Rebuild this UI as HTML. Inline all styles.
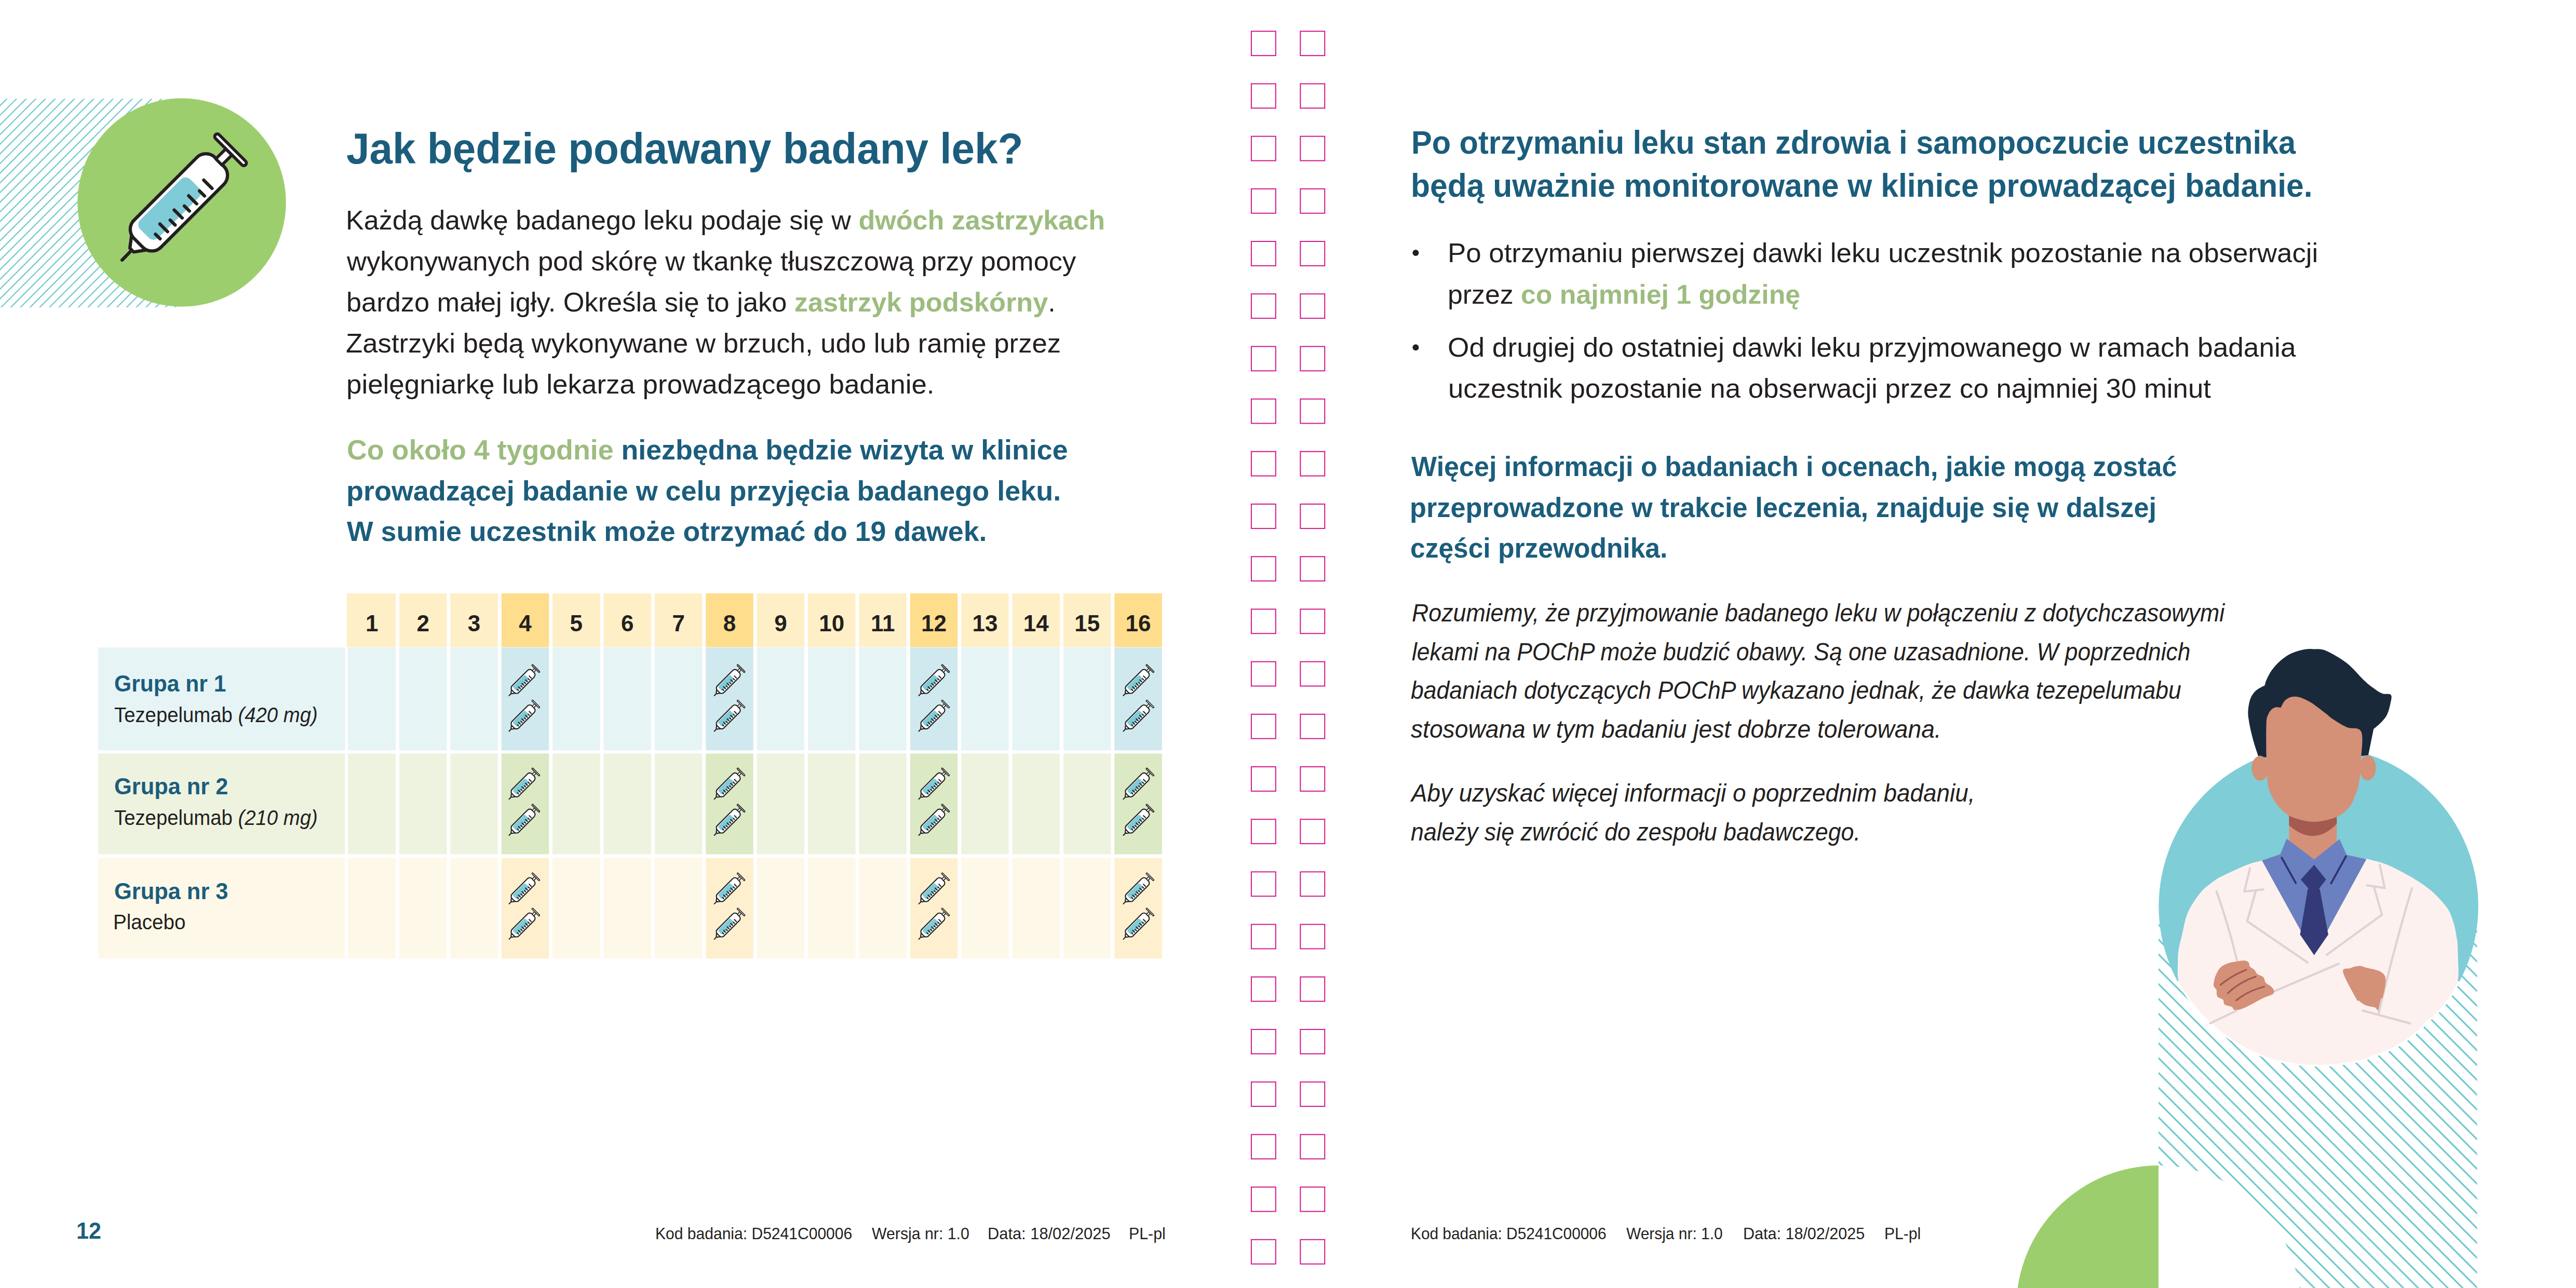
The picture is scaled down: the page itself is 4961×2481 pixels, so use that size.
<!DOCTYPE html>
<html><head><meta charset="utf-8"><style>
html,body{margin:0;padding:0;}
body{width:4961px;height:2481px;position:relative;overflow:hidden;background:#fff;font-family:"Liberation Sans",sans-serif;}
svg.bg{position:absolute;left:0;top:0;}
.t{position:absolute;white-space:pre;line-height:1;transform-origin:0 0;}
.n{position:absolute;top:1178.75px;font-size:44px;line-height:1;font-weight:700;text-align:center;}
</style></head><body>
<svg class="bg" width="4961" height="2481" viewBox="0 0 4961 2481">
<defs>
<pattern id="hl" patternUnits="userSpaceOnUse" width="13.152" height="40" patternTransform="translate(16.0,0) rotate(45)">
<rect x="0" y="0" width="2.1" height="40" fill="#68c6ca"/></pattern>
<pattern id="hr" patternUnits="userSpaceOnUse" width="20.188" height="40" patternTransform="translate(4.0,0) rotate(-45)">
<rect x="0" y="0" width="3.1" height="40" fill="#6cc8cc"/></pattern>

<clipPath id="docclip"><rect x="4157" y="1200" width="700" height="1281"/></clipPath>
</defs>
<rect x="0" y="190.3" width="350" height="401.7" fill="url(#hl)"/>
<circle cx="350" cy="390" r="200.7" fill="#9dce6e"/>
<g transform="translate(220,250) scale(0.20964) translate(70,1195) rotate(-45)"><g stroke="#231f20" stroke-linecap="round" stroke-linejoin="round">
<line x1="0" y1="3" x2="140" y2="1" stroke-width="30.0"/>
<path d="M330,-178 L128,-24 L128,26 L330,172 Z" fill="#fff" stroke-width="30.0"/>
<rect x="218" y="-178" width="1052" height="350" rx="118" fill="#fff" stroke-width="30.0"/>
<rect x="318" y="-140" width="650" height="234" rx="62" fill="#7fcbd7" stroke="none"/>
<g stroke-width="30.0">
<line x1="385" y1="52" x2="385" y2="112"/><line x1="480" y1="14" x2="480" y2="114"/>
<line x1="572" y1="56" x2="572" y2="120"/><line x1="664" y1="16" x2="664" y2="120"/>
<line x1="756" y1="56" x2="756" y2="122"/><line x1="850" y1="18" x2="850" y2="122"/>
<line x1="952" y1="56" x2="952" y2="122"/><line x1="1050" y1="14" x2="1050" y2="122"/>
</g>
<rect x="1266" y="-46" width="130" height="80" fill="#fff" stroke-width="28.0"/>
<rect x="1397" y="-205" width="48" height="392" rx="24" fill="#fff" stroke-width="28.0"/>
</g></g>
<rect x="667.80" y="1143" width="94.3" height="103.6" fill="#feefc7"/>
<rect x="768.98" y="1143" width="91.5" height="103.6" fill="#feefc7"/>
<rect x="867.36" y="1143" width="91.5" height="103.6" fill="#feefc7"/>
<rect x="965.74" y="1143" width="91.5" height="103.6" fill="#fedd8c"/>
<rect x="1064.12" y="1143" width="91.5" height="103.6" fill="#feefc7"/>
<rect x="1162.50" y="1143" width="91.5" height="103.6" fill="#feefc7"/>
<rect x="1260.88" y="1143" width="91.5" height="103.6" fill="#feefc7"/>
<rect x="1359.26" y="1143" width="91.5" height="103.6" fill="#fedd8c"/>
<rect x="1457.64" y="1143" width="91.5" height="103.6" fill="#feefc7"/>
<rect x="1556.02" y="1143" width="91.5" height="103.6" fill="#feefc7"/>
<rect x="1654.40" y="1143" width="91.5" height="103.6" fill="#feefc7"/>
<rect x="1752.78" y="1143" width="91.5" height="103.6" fill="#fedd8c"/>
<rect x="1851.16" y="1143" width="91.5" height="103.6" fill="#feefc7"/>
<rect x="1949.54" y="1143" width="91.5" height="103.6" fill="#feefc7"/>
<rect x="2047.92" y="1143" width="91.5" height="103.6" fill="#feefc7"/>
<rect x="2146.30" y="1143" width="91.5" height="103.6" fill="#fedd8c"/>
<rect x="189.1" y="1247.4" width="475.4" height="198.0" fill="#e6f4f6"/>
<rect x="670.00" y="1247.4" width="92.1" height="198.0" fill="#e6f4f6"/>
<rect x="768.98" y="1247.4" width="91.5" height="198.0" fill="#e6f4f6"/>
<rect x="867.36" y="1247.4" width="91.5" height="198.0" fill="#e6f4f6"/>
<rect x="965.74" y="1247.4" width="91.5" height="198.0" fill="#d0e9ee"/>
<rect x="1064.12" y="1247.4" width="91.5" height="198.0" fill="#e6f4f6"/>
<rect x="1162.50" y="1247.4" width="91.5" height="198.0" fill="#e6f4f6"/>
<rect x="1260.88" y="1247.4" width="91.5" height="198.0" fill="#e6f4f6"/>
<rect x="1359.26" y="1247.4" width="91.5" height="198.0" fill="#d0e9ee"/>
<rect x="1457.64" y="1247.4" width="91.5" height="198.0" fill="#e6f4f6"/>
<rect x="1556.02" y="1247.4" width="91.5" height="198.0" fill="#e6f4f6"/>
<rect x="1654.40" y="1247.4" width="91.5" height="198.0" fill="#e6f4f6"/>
<rect x="1752.78" y="1247.4" width="91.5" height="198.0" fill="#d0e9ee"/>
<rect x="1851.16" y="1247.4" width="91.5" height="198.0" fill="#e6f4f6"/>
<rect x="1949.54" y="1247.4" width="91.5" height="198.0" fill="#e6f4f6"/>
<rect x="2047.92" y="1247.4" width="91.5" height="198.0" fill="#e6f4f6"/>
<rect x="2146.30" y="1247.4" width="91.5" height="198.0" fill="#d0e9ee"/>
<rect x="189.1" y="1451.5" width="475.4" height="194.0" fill="#eef3e0"/>
<rect x="670.00" y="1451.5" width="92.1" height="194.0" fill="#eef3e0"/>
<rect x="768.98" y="1451.5" width="91.5" height="194.0" fill="#eef3e0"/>
<rect x="867.36" y="1451.5" width="91.5" height="194.0" fill="#eef3e0"/>
<rect x="965.74" y="1451.5" width="91.5" height="194.0" fill="#dbe9c4"/>
<rect x="1064.12" y="1451.5" width="91.5" height="194.0" fill="#eef3e0"/>
<rect x="1162.50" y="1451.5" width="91.5" height="194.0" fill="#eef3e0"/>
<rect x="1260.88" y="1451.5" width="91.5" height="194.0" fill="#eef3e0"/>
<rect x="1359.26" y="1451.5" width="91.5" height="194.0" fill="#dbe9c4"/>
<rect x="1457.64" y="1451.5" width="91.5" height="194.0" fill="#eef3e0"/>
<rect x="1556.02" y="1451.5" width="91.5" height="194.0" fill="#eef3e0"/>
<rect x="1654.40" y="1451.5" width="91.5" height="194.0" fill="#eef3e0"/>
<rect x="1752.78" y="1451.5" width="91.5" height="194.0" fill="#dbe9c4"/>
<rect x="1851.16" y="1451.5" width="91.5" height="194.0" fill="#eef3e0"/>
<rect x="1949.54" y="1451.5" width="91.5" height="194.0" fill="#eef3e0"/>
<rect x="2047.92" y="1451.5" width="91.5" height="194.0" fill="#eef3e0"/>
<rect x="2146.30" y="1451.5" width="91.5" height="194.0" fill="#dbe9c4"/>
<rect x="189.1" y="1652.7" width="475.4" height="193.8" fill="#fef8e9"/>
<rect x="670.00" y="1652.7" width="92.1" height="193.8" fill="#fef8e9"/>
<rect x="768.98" y="1652.7" width="91.5" height="193.8" fill="#fef8e9"/>
<rect x="867.36" y="1652.7" width="91.5" height="193.8" fill="#fef8e9"/>
<rect x="965.74" y="1652.7" width="91.5" height="193.8" fill="#fef0cf"/>
<rect x="1064.12" y="1652.7" width="91.5" height="193.8" fill="#fef8e9"/>
<rect x="1162.50" y="1652.7" width="91.5" height="193.8" fill="#fef8e9"/>
<rect x="1260.88" y="1652.7" width="91.5" height="193.8" fill="#fef8e9"/>
<rect x="1359.26" y="1652.7" width="91.5" height="193.8" fill="#fef0cf"/>
<rect x="1457.64" y="1652.7" width="91.5" height="193.8" fill="#fef8e9"/>
<rect x="1556.02" y="1652.7" width="91.5" height="193.8" fill="#fef8e9"/>
<rect x="1654.40" y="1652.7" width="91.5" height="193.8" fill="#fef8e9"/>
<rect x="1752.78" y="1652.7" width="91.5" height="193.8" fill="#fef0cf"/>
<rect x="1851.16" y="1652.7" width="91.5" height="193.8" fill="#fef8e9"/>
<rect x="1949.54" y="1652.7" width="91.5" height="193.8" fill="#fef8e9"/>
<rect x="2047.92" y="1652.7" width="91.5" height="193.8" fill="#fef8e9"/>
<rect x="2146.30" y="1652.7" width="91.5" height="193.8" fill="#fef0cf"/>
<g transform="translate(980.40,1339.9) scale(0.05157) rotate(-45)"><g stroke="#231f20" stroke-linecap="round" stroke-linejoin="round">
<line x1="0" y1="3" x2="140" y2="1" stroke-width="40.5"/>
<path d="M330,-178 L128,-24 L128,26 L330,172 Z" fill="#fff" stroke-width="40.5"/>
<rect x="218" y="-178" width="1052" height="350" rx="118" fill="#fff" stroke-width="40.5"/>
<rect x="318" y="-140" width="650" height="234" rx="62" fill="#7fcbd7" stroke="none"/>
<g stroke-width="40.5">
<line x1="385" y1="52" x2="385" y2="112"/><line x1="480" y1="14" x2="480" y2="114"/>
<line x1="572" y1="56" x2="572" y2="120"/><line x1="664" y1="16" x2="664" y2="120"/>
<line x1="756" y1="56" x2="756" y2="122"/><line x1="850" y1="18" x2="850" y2="122"/>
<line x1="952" y1="56" x2="952" y2="122"/><line x1="1050" y1="14" x2="1050" y2="122"/>
</g>
<rect x="1266" y="-46" width="130" height="80" fill="#fff" stroke-width="30.9"/>
<rect x="1397" y="-205" width="48" height="392" rx="24" fill="#fff" stroke-width="30.9"/>
</g></g>
<g transform="translate(980.40,1408.3) scale(0.05157) rotate(-45)"><g stroke="#231f20" stroke-linecap="round" stroke-linejoin="round">
<line x1="0" y1="3" x2="140" y2="1" stroke-width="40.5"/>
<path d="M330,-178 L128,-24 L128,26 L330,172 Z" fill="#fff" stroke-width="40.5"/>
<rect x="218" y="-178" width="1052" height="350" rx="118" fill="#fff" stroke-width="40.5"/>
<rect x="318" y="-140" width="650" height="234" rx="62" fill="#7fcbd7" stroke="none"/>
<g stroke-width="40.5">
<line x1="385" y1="52" x2="385" y2="112"/><line x1="480" y1="14" x2="480" y2="114"/>
<line x1="572" y1="56" x2="572" y2="120"/><line x1="664" y1="16" x2="664" y2="120"/>
<line x1="756" y1="56" x2="756" y2="122"/><line x1="850" y1="18" x2="850" y2="122"/>
<line x1="952" y1="56" x2="952" y2="122"/><line x1="1050" y1="14" x2="1050" y2="122"/>
</g>
<rect x="1266" y="-46" width="130" height="80" fill="#fff" stroke-width="30.9"/>
<rect x="1397" y="-205" width="48" height="392" rx="24" fill="#fff" stroke-width="30.9"/>
</g></g>
<g transform="translate(1375.60,1339.9) scale(0.05157) rotate(-45)"><g stroke="#231f20" stroke-linecap="round" stroke-linejoin="round">
<line x1="0" y1="3" x2="140" y2="1" stroke-width="40.5"/>
<path d="M330,-178 L128,-24 L128,26 L330,172 Z" fill="#fff" stroke-width="40.5"/>
<rect x="218" y="-178" width="1052" height="350" rx="118" fill="#fff" stroke-width="40.5"/>
<rect x="318" y="-140" width="650" height="234" rx="62" fill="#7fcbd7" stroke="none"/>
<g stroke-width="40.5">
<line x1="385" y1="52" x2="385" y2="112"/><line x1="480" y1="14" x2="480" y2="114"/>
<line x1="572" y1="56" x2="572" y2="120"/><line x1="664" y1="16" x2="664" y2="120"/>
<line x1="756" y1="56" x2="756" y2="122"/><line x1="850" y1="18" x2="850" y2="122"/>
<line x1="952" y1="56" x2="952" y2="122"/><line x1="1050" y1="14" x2="1050" y2="122"/>
</g>
<rect x="1266" y="-46" width="130" height="80" fill="#fff" stroke-width="30.9"/>
<rect x="1397" y="-205" width="48" height="392" rx="24" fill="#fff" stroke-width="30.9"/>
</g></g>
<g transform="translate(1375.60,1408.3) scale(0.05157) rotate(-45)"><g stroke="#231f20" stroke-linecap="round" stroke-linejoin="round">
<line x1="0" y1="3" x2="140" y2="1" stroke-width="40.5"/>
<path d="M330,-178 L128,-24 L128,26 L330,172 Z" fill="#fff" stroke-width="40.5"/>
<rect x="218" y="-178" width="1052" height="350" rx="118" fill="#fff" stroke-width="40.5"/>
<rect x="318" y="-140" width="650" height="234" rx="62" fill="#7fcbd7" stroke="none"/>
<g stroke-width="40.5">
<line x1="385" y1="52" x2="385" y2="112"/><line x1="480" y1="14" x2="480" y2="114"/>
<line x1="572" y1="56" x2="572" y2="120"/><line x1="664" y1="16" x2="664" y2="120"/>
<line x1="756" y1="56" x2="756" y2="122"/><line x1="850" y1="18" x2="850" y2="122"/>
<line x1="952" y1="56" x2="952" y2="122"/><line x1="1050" y1="14" x2="1050" y2="122"/>
</g>
<rect x="1266" y="-46" width="130" height="80" fill="#fff" stroke-width="30.9"/>
<rect x="1397" y="-205" width="48" height="392" rx="24" fill="#fff" stroke-width="30.9"/>
</g></g>
<g transform="translate(1769.40,1339.9) scale(0.05157) rotate(-45)"><g stroke="#231f20" stroke-linecap="round" stroke-linejoin="round">
<line x1="0" y1="3" x2="140" y2="1" stroke-width="40.5"/>
<path d="M330,-178 L128,-24 L128,26 L330,172 Z" fill="#fff" stroke-width="40.5"/>
<rect x="218" y="-178" width="1052" height="350" rx="118" fill="#fff" stroke-width="40.5"/>
<rect x="318" y="-140" width="650" height="234" rx="62" fill="#7fcbd7" stroke="none"/>
<g stroke-width="40.5">
<line x1="385" y1="52" x2="385" y2="112"/><line x1="480" y1="14" x2="480" y2="114"/>
<line x1="572" y1="56" x2="572" y2="120"/><line x1="664" y1="16" x2="664" y2="120"/>
<line x1="756" y1="56" x2="756" y2="122"/><line x1="850" y1="18" x2="850" y2="122"/>
<line x1="952" y1="56" x2="952" y2="122"/><line x1="1050" y1="14" x2="1050" y2="122"/>
</g>
<rect x="1266" y="-46" width="130" height="80" fill="#fff" stroke-width="30.9"/>
<rect x="1397" y="-205" width="48" height="392" rx="24" fill="#fff" stroke-width="30.9"/>
</g></g>
<g transform="translate(1769.40,1408.3) scale(0.05157) rotate(-45)"><g stroke="#231f20" stroke-linecap="round" stroke-linejoin="round">
<line x1="0" y1="3" x2="140" y2="1" stroke-width="40.5"/>
<path d="M330,-178 L128,-24 L128,26 L330,172 Z" fill="#fff" stroke-width="40.5"/>
<rect x="218" y="-178" width="1052" height="350" rx="118" fill="#fff" stroke-width="40.5"/>
<rect x="318" y="-140" width="650" height="234" rx="62" fill="#7fcbd7" stroke="none"/>
<g stroke-width="40.5">
<line x1="385" y1="52" x2="385" y2="112"/><line x1="480" y1="14" x2="480" y2="114"/>
<line x1="572" y1="56" x2="572" y2="120"/><line x1="664" y1="16" x2="664" y2="120"/>
<line x1="756" y1="56" x2="756" y2="122"/><line x1="850" y1="18" x2="850" y2="122"/>
<line x1="952" y1="56" x2="952" y2="122"/><line x1="1050" y1="14" x2="1050" y2="122"/>
</g>
<rect x="1266" y="-46" width="130" height="80" fill="#fff" stroke-width="30.9"/>
<rect x="1397" y="-205" width="48" height="392" rx="24" fill="#fff" stroke-width="30.9"/>
</g></g>
<g transform="translate(2163.30,1339.9) scale(0.05157) rotate(-45)"><g stroke="#231f20" stroke-linecap="round" stroke-linejoin="round">
<line x1="0" y1="3" x2="140" y2="1" stroke-width="40.5"/>
<path d="M330,-178 L128,-24 L128,26 L330,172 Z" fill="#fff" stroke-width="40.5"/>
<rect x="218" y="-178" width="1052" height="350" rx="118" fill="#fff" stroke-width="40.5"/>
<rect x="318" y="-140" width="650" height="234" rx="62" fill="#7fcbd7" stroke="none"/>
<g stroke-width="40.5">
<line x1="385" y1="52" x2="385" y2="112"/><line x1="480" y1="14" x2="480" y2="114"/>
<line x1="572" y1="56" x2="572" y2="120"/><line x1="664" y1="16" x2="664" y2="120"/>
<line x1="756" y1="56" x2="756" y2="122"/><line x1="850" y1="18" x2="850" y2="122"/>
<line x1="952" y1="56" x2="952" y2="122"/><line x1="1050" y1="14" x2="1050" y2="122"/>
</g>
<rect x="1266" y="-46" width="130" height="80" fill="#fff" stroke-width="30.9"/>
<rect x="1397" y="-205" width="48" height="392" rx="24" fill="#fff" stroke-width="30.9"/>
</g></g>
<g transform="translate(2163.30,1408.3) scale(0.05157) rotate(-45)"><g stroke="#231f20" stroke-linecap="round" stroke-linejoin="round">
<line x1="0" y1="3" x2="140" y2="1" stroke-width="40.5"/>
<path d="M330,-178 L128,-24 L128,26 L330,172 Z" fill="#fff" stroke-width="40.5"/>
<rect x="218" y="-178" width="1052" height="350" rx="118" fill="#fff" stroke-width="40.5"/>
<rect x="318" y="-140" width="650" height="234" rx="62" fill="#7fcbd7" stroke="none"/>
<g stroke-width="40.5">
<line x1="385" y1="52" x2="385" y2="112"/><line x1="480" y1="14" x2="480" y2="114"/>
<line x1="572" y1="56" x2="572" y2="120"/><line x1="664" y1="16" x2="664" y2="120"/>
<line x1="756" y1="56" x2="756" y2="122"/><line x1="850" y1="18" x2="850" y2="122"/>
<line x1="952" y1="56" x2="952" y2="122"/><line x1="1050" y1="14" x2="1050" y2="122"/>
</g>
<rect x="1266" y="-46" width="130" height="80" fill="#fff" stroke-width="30.9"/>
<rect x="1397" y="-205" width="48" height="392" rx="24" fill="#fff" stroke-width="30.9"/>
</g></g>
<g transform="translate(980.40,1539.2) scale(0.05157) rotate(-45)"><g stroke="#231f20" stroke-linecap="round" stroke-linejoin="round">
<line x1="0" y1="3" x2="140" y2="1" stroke-width="40.5"/>
<path d="M330,-178 L128,-24 L128,26 L330,172 Z" fill="#fff" stroke-width="40.5"/>
<rect x="218" y="-178" width="1052" height="350" rx="118" fill="#fff" stroke-width="40.5"/>
<rect x="318" y="-140" width="650" height="234" rx="62" fill="#7fcbd7" stroke="none"/>
<g stroke-width="40.5">
<line x1="385" y1="52" x2="385" y2="112"/><line x1="480" y1="14" x2="480" y2="114"/>
<line x1="572" y1="56" x2="572" y2="120"/><line x1="664" y1="16" x2="664" y2="120"/>
<line x1="756" y1="56" x2="756" y2="122"/><line x1="850" y1="18" x2="850" y2="122"/>
<line x1="952" y1="56" x2="952" y2="122"/><line x1="1050" y1="14" x2="1050" y2="122"/>
</g>
<rect x="1266" y="-46" width="130" height="80" fill="#fff" stroke-width="30.9"/>
<rect x="1397" y="-205" width="48" height="392" rx="24" fill="#fff" stroke-width="30.9"/>
</g></g>
<g transform="translate(980.40,1608.9) scale(0.05157) rotate(-45)"><g stroke="#231f20" stroke-linecap="round" stroke-linejoin="round">
<line x1="0" y1="3" x2="140" y2="1" stroke-width="40.5"/>
<path d="M330,-178 L128,-24 L128,26 L330,172 Z" fill="#fff" stroke-width="40.5"/>
<rect x="218" y="-178" width="1052" height="350" rx="118" fill="#fff" stroke-width="40.5"/>
<rect x="318" y="-140" width="650" height="234" rx="62" fill="#7fcbd7" stroke="none"/>
<g stroke-width="40.5">
<line x1="385" y1="52" x2="385" y2="112"/><line x1="480" y1="14" x2="480" y2="114"/>
<line x1="572" y1="56" x2="572" y2="120"/><line x1="664" y1="16" x2="664" y2="120"/>
<line x1="756" y1="56" x2="756" y2="122"/><line x1="850" y1="18" x2="850" y2="122"/>
<line x1="952" y1="56" x2="952" y2="122"/><line x1="1050" y1="14" x2="1050" y2="122"/>
</g>
<rect x="1266" y="-46" width="130" height="80" fill="#fff" stroke-width="30.9"/>
<rect x="1397" y="-205" width="48" height="392" rx="24" fill="#fff" stroke-width="30.9"/>
</g></g>
<g transform="translate(1375.60,1539.2) scale(0.05157) rotate(-45)"><g stroke="#231f20" stroke-linecap="round" stroke-linejoin="round">
<line x1="0" y1="3" x2="140" y2="1" stroke-width="40.5"/>
<path d="M330,-178 L128,-24 L128,26 L330,172 Z" fill="#fff" stroke-width="40.5"/>
<rect x="218" y="-178" width="1052" height="350" rx="118" fill="#fff" stroke-width="40.5"/>
<rect x="318" y="-140" width="650" height="234" rx="62" fill="#7fcbd7" stroke="none"/>
<g stroke-width="40.5">
<line x1="385" y1="52" x2="385" y2="112"/><line x1="480" y1="14" x2="480" y2="114"/>
<line x1="572" y1="56" x2="572" y2="120"/><line x1="664" y1="16" x2="664" y2="120"/>
<line x1="756" y1="56" x2="756" y2="122"/><line x1="850" y1="18" x2="850" y2="122"/>
<line x1="952" y1="56" x2="952" y2="122"/><line x1="1050" y1="14" x2="1050" y2="122"/>
</g>
<rect x="1266" y="-46" width="130" height="80" fill="#fff" stroke-width="30.9"/>
<rect x="1397" y="-205" width="48" height="392" rx="24" fill="#fff" stroke-width="30.9"/>
</g></g>
<g transform="translate(1375.60,1608.9) scale(0.05157) rotate(-45)"><g stroke="#231f20" stroke-linecap="round" stroke-linejoin="round">
<line x1="0" y1="3" x2="140" y2="1" stroke-width="40.5"/>
<path d="M330,-178 L128,-24 L128,26 L330,172 Z" fill="#fff" stroke-width="40.5"/>
<rect x="218" y="-178" width="1052" height="350" rx="118" fill="#fff" stroke-width="40.5"/>
<rect x="318" y="-140" width="650" height="234" rx="62" fill="#7fcbd7" stroke="none"/>
<g stroke-width="40.5">
<line x1="385" y1="52" x2="385" y2="112"/><line x1="480" y1="14" x2="480" y2="114"/>
<line x1="572" y1="56" x2="572" y2="120"/><line x1="664" y1="16" x2="664" y2="120"/>
<line x1="756" y1="56" x2="756" y2="122"/><line x1="850" y1="18" x2="850" y2="122"/>
<line x1="952" y1="56" x2="952" y2="122"/><line x1="1050" y1="14" x2="1050" y2="122"/>
</g>
<rect x="1266" y="-46" width="130" height="80" fill="#fff" stroke-width="30.9"/>
<rect x="1397" y="-205" width="48" height="392" rx="24" fill="#fff" stroke-width="30.9"/>
</g></g>
<g transform="translate(1769.40,1539.2) scale(0.05157) rotate(-45)"><g stroke="#231f20" stroke-linecap="round" stroke-linejoin="round">
<line x1="0" y1="3" x2="140" y2="1" stroke-width="40.5"/>
<path d="M330,-178 L128,-24 L128,26 L330,172 Z" fill="#fff" stroke-width="40.5"/>
<rect x="218" y="-178" width="1052" height="350" rx="118" fill="#fff" stroke-width="40.5"/>
<rect x="318" y="-140" width="650" height="234" rx="62" fill="#7fcbd7" stroke="none"/>
<g stroke-width="40.5">
<line x1="385" y1="52" x2="385" y2="112"/><line x1="480" y1="14" x2="480" y2="114"/>
<line x1="572" y1="56" x2="572" y2="120"/><line x1="664" y1="16" x2="664" y2="120"/>
<line x1="756" y1="56" x2="756" y2="122"/><line x1="850" y1="18" x2="850" y2="122"/>
<line x1="952" y1="56" x2="952" y2="122"/><line x1="1050" y1="14" x2="1050" y2="122"/>
</g>
<rect x="1266" y="-46" width="130" height="80" fill="#fff" stroke-width="30.9"/>
<rect x="1397" y="-205" width="48" height="392" rx="24" fill="#fff" stroke-width="30.9"/>
</g></g>
<g transform="translate(1769.40,1608.9) scale(0.05157) rotate(-45)"><g stroke="#231f20" stroke-linecap="round" stroke-linejoin="round">
<line x1="0" y1="3" x2="140" y2="1" stroke-width="40.5"/>
<path d="M330,-178 L128,-24 L128,26 L330,172 Z" fill="#fff" stroke-width="40.5"/>
<rect x="218" y="-178" width="1052" height="350" rx="118" fill="#fff" stroke-width="40.5"/>
<rect x="318" y="-140" width="650" height="234" rx="62" fill="#7fcbd7" stroke="none"/>
<g stroke-width="40.5">
<line x1="385" y1="52" x2="385" y2="112"/><line x1="480" y1="14" x2="480" y2="114"/>
<line x1="572" y1="56" x2="572" y2="120"/><line x1="664" y1="16" x2="664" y2="120"/>
<line x1="756" y1="56" x2="756" y2="122"/><line x1="850" y1="18" x2="850" y2="122"/>
<line x1="952" y1="56" x2="952" y2="122"/><line x1="1050" y1="14" x2="1050" y2="122"/>
</g>
<rect x="1266" y="-46" width="130" height="80" fill="#fff" stroke-width="30.9"/>
<rect x="1397" y="-205" width="48" height="392" rx="24" fill="#fff" stroke-width="30.9"/>
</g></g>
<g transform="translate(2163.30,1539.2) scale(0.05157) rotate(-45)"><g stroke="#231f20" stroke-linecap="round" stroke-linejoin="round">
<line x1="0" y1="3" x2="140" y2="1" stroke-width="40.5"/>
<path d="M330,-178 L128,-24 L128,26 L330,172 Z" fill="#fff" stroke-width="40.5"/>
<rect x="218" y="-178" width="1052" height="350" rx="118" fill="#fff" stroke-width="40.5"/>
<rect x="318" y="-140" width="650" height="234" rx="62" fill="#7fcbd7" stroke="none"/>
<g stroke-width="40.5">
<line x1="385" y1="52" x2="385" y2="112"/><line x1="480" y1="14" x2="480" y2="114"/>
<line x1="572" y1="56" x2="572" y2="120"/><line x1="664" y1="16" x2="664" y2="120"/>
<line x1="756" y1="56" x2="756" y2="122"/><line x1="850" y1="18" x2="850" y2="122"/>
<line x1="952" y1="56" x2="952" y2="122"/><line x1="1050" y1="14" x2="1050" y2="122"/>
</g>
<rect x="1266" y="-46" width="130" height="80" fill="#fff" stroke-width="30.9"/>
<rect x="1397" y="-205" width="48" height="392" rx="24" fill="#fff" stroke-width="30.9"/>
</g></g>
<g transform="translate(2163.30,1608.9) scale(0.05157) rotate(-45)"><g stroke="#231f20" stroke-linecap="round" stroke-linejoin="round">
<line x1="0" y1="3" x2="140" y2="1" stroke-width="40.5"/>
<path d="M330,-178 L128,-24 L128,26 L330,172 Z" fill="#fff" stroke-width="40.5"/>
<rect x="218" y="-178" width="1052" height="350" rx="118" fill="#fff" stroke-width="40.5"/>
<rect x="318" y="-140" width="650" height="234" rx="62" fill="#7fcbd7" stroke="none"/>
<g stroke-width="40.5">
<line x1="385" y1="52" x2="385" y2="112"/><line x1="480" y1="14" x2="480" y2="114"/>
<line x1="572" y1="56" x2="572" y2="120"/><line x1="664" y1="16" x2="664" y2="120"/>
<line x1="756" y1="56" x2="756" y2="122"/><line x1="850" y1="18" x2="850" y2="122"/>
<line x1="952" y1="56" x2="952" y2="122"/><line x1="1050" y1="14" x2="1050" y2="122"/>
</g>
<rect x="1266" y="-46" width="130" height="80" fill="#fff" stroke-width="30.9"/>
<rect x="1397" y="-205" width="48" height="392" rx="24" fill="#fff" stroke-width="30.9"/>
</g></g>
<g transform="translate(980.40,1741) scale(0.05157) rotate(-45)"><g stroke="#231f20" stroke-linecap="round" stroke-linejoin="round">
<line x1="0" y1="3" x2="140" y2="1" stroke-width="40.5"/>
<path d="M330,-178 L128,-24 L128,26 L330,172 Z" fill="#fff" stroke-width="40.5"/>
<rect x="218" y="-178" width="1052" height="350" rx="118" fill="#fff" stroke-width="40.5"/>
<rect x="318" y="-140" width="650" height="234" rx="62" fill="#7fcbd7" stroke="none"/>
<g stroke-width="40.5">
<line x1="385" y1="52" x2="385" y2="112"/><line x1="480" y1="14" x2="480" y2="114"/>
<line x1="572" y1="56" x2="572" y2="120"/><line x1="664" y1="16" x2="664" y2="120"/>
<line x1="756" y1="56" x2="756" y2="122"/><line x1="850" y1="18" x2="850" y2="122"/>
<line x1="952" y1="56" x2="952" y2="122"/><line x1="1050" y1="14" x2="1050" y2="122"/>
</g>
<rect x="1266" y="-46" width="130" height="80" fill="#fff" stroke-width="30.9"/>
<rect x="1397" y="-205" width="48" height="392" rx="24" fill="#fff" stroke-width="30.9"/>
</g></g>
<g transform="translate(980.40,1809) scale(0.05157) rotate(-45)"><g stroke="#231f20" stroke-linecap="round" stroke-linejoin="round">
<line x1="0" y1="3" x2="140" y2="1" stroke-width="40.5"/>
<path d="M330,-178 L128,-24 L128,26 L330,172 Z" fill="#fff" stroke-width="40.5"/>
<rect x="218" y="-178" width="1052" height="350" rx="118" fill="#fff" stroke-width="40.5"/>
<rect x="318" y="-140" width="650" height="234" rx="62" fill="#7fcbd7" stroke="none"/>
<g stroke-width="40.5">
<line x1="385" y1="52" x2="385" y2="112"/><line x1="480" y1="14" x2="480" y2="114"/>
<line x1="572" y1="56" x2="572" y2="120"/><line x1="664" y1="16" x2="664" y2="120"/>
<line x1="756" y1="56" x2="756" y2="122"/><line x1="850" y1="18" x2="850" y2="122"/>
<line x1="952" y1="56" x2="952" y2="122"/><line x1="1050" y1="14" x2="1050" y2="122"/>
</g>
<rect x="1266" y="-46" width="130" height="80" fill="#fff" stroke-width="30.9"/>
<rect x="1397" y="-205" width="48" height="392" rx="24" fill="#fff" stroke-width="30.9"/>
</g></g>
<g transform="translate(1375.60,1741) scale(0.05157) rotate(-45)"><g stroke="#231f20" stroke-linecap="round" stroke-linejoin="round">
<line x1="0" y1="3" x2="140" y2="1" stroke-width="40.5"/>
<path d="M330,-178 L128,-24 L128,26 L330,172 Z" fill="#fff" stroke-width="40.5"/>
<rect x="218" y="-178" width="1052" height="350" rx="118" fill="#fff" stroke-width="40.5"/>
<rect x="318" y="-140" width="650" height="234" rx="62" fill="#7fcbd7" stroke="none"/>
<g stroke-width="40.5">
<line x1="385" y1="52" x2="385" y2="112"/><line x1="480" y1="14" x2="480" y2="114"/>
<line x1="572" y1="56" x2="572" y2="120"/><line x1="664" y1="16" x2="664" y2="120"/>
<line x1="756" y1="56" x2="756" y2="122"/><line x1="850" y1="18" x2="850" y2="122"/>
<line x1="952" y1="56" x2="952" y2="122"/><line x1="1050" y1="14" x2="1050" y2="122"/>
</g>
<rect x="1266" y="-46" width="130" height="80" fill="#fff" stroke-width="30.9"/>
<rect x="1397" y="-205" width="48" height="392" rx="24" fill="#fff" stroke-width="30.9"/>
</g></g>
<g transform="translate(1375.60,1809) scale(0.05157) rotate(-45)"><g stroke="#231f20" stroke-linecap="round" stroke-linejoin="round">
<line x1="0" y1="3" x2="140" y2="1" stroke-width="40.5"/>
<path d="M330,-178 L128,-24 L128,26 L330,172 Z" fill="#fff" stroke-width="40.5"/>
<rect x="218" y="-178" width="1052" height="350" rx="118" fill="#fff" stroke-width="40.5"/>
<rect x="318" y="-140" width="650" height="234" rx="62" fill="#7fcbd7" stroke="none"/>
<g stroke-width="40.5">
<line x1="385" y1="52" x2="385" y2="112"/><line x1="480" y1="14" x2="480" y2="114"/>
<line x1="572" y1="56" x2="572" y2="120"/><line x1="664" y1="16" x2="664" y2="120"/>
<line x1="756" y1="56" x2="756" y2="122"/><line x1="850" y1="18" x2="850" y2="122"/>
<line x1="952" y1="56" x2="952" y2="122"/><line x1="1050" y1="14" x2="1050" y2="122"/>
</g>
<rect x="1266" y="-46" width="130" height="80" fill="#fff" stroke-width="30.9"/>
<rect x="1397" y="-205" width="48" height="392" rx="24" fill="#fff" stroke-width="30.9"/>
</g></g>
<g transform="translate(1769.40,1741) scale(0.05157) rotate(-45)"><g stroke="#231f20" stroke-linecap="round" stroke-linejoin="round">
<line x1="0" y1="3" x2="140" y2="1" stroke-width="40.5"/>
<path d="M330,-178 L128,-24 L128,26 L330,172 Z" fill="#fff" stroke-width="40.5"/>
<rect x="218" y="-178" width="1052" height="350" rx="118" fill="#fff" stroke-width="40.5"/>
<rect x="318" y="-140" width="650" height="234" rx="62" fill="#7fcbd7" stroke="none"/>
<g stroke-width="40.5">
<line x1="385" y1="52" x2="385" y2="112"/><line x1="480" y1="14" x2="480" y2="114"/>
<line x1="572" y1="56" x2="572" y2="120"/><line x1="664" y1="16" x2="664" y2="120"/>
<line x1="756" y1="56" x2="756" y2="122"/><line x1="850" y1="18" x2="850" y2="122"/>
<line x1="952" y1="56" x2="952" y2="122"/><line x1="1050" y1="14" x2="1050" y2="122"/>
</g>
<rect x="1266" y="-46" width="130" height="80" fill="#fff" stroke-width="30.9"/>
<rect x="1397" y="-205" width="48" height="392" rx="24" fill="#fff" stroke-width="30.9"/>
</g></g>
<g transform="translate(1769.40,1809) scale(0.05157) rotate(-45)"><g stroke="#231f20" stroke-linecap="round" stroke-linejoin="round">
<line x1="0" y1="3" x2="140" y2="1" stroke-width="40.5"/>
<path d="M330,-178 L128,-24 L128,26 L330,172 Z" fill="#fff" stroke-width="40.5"/>
<rect x="218" y="-178" width="1052" height="350" rx="118" fill="#fff" stroke-width="40.5"/>
<rect x="318" y="-140" width="650" height="234" rx="62" fill="#7fcbd7" stroke="none"/>
<g stroke-width="40.5">
<line x1="385" y1="52" x2="385" y2="112"/><line x1="480" y1="14" x2="480" y2="114"/>
<line x1="572" y1="56" x2="572" y2="120"/><line x1="664" y1="16" x2="664" y2="120"/>
<line x1="756" y1="56" x2="756" y2="122"/><line x1="850" y1="18" x2="850" y2="122"/>
<line x1="952" y1="56" x2="952" y2="122"/><line x1="1050" y1="14" x2="1050" y2="122"/>
</g>
<rect x="1266" y="-46" width="130" height="80" fill="#fff" stroke-width="30.9"/>
<rect x="1397" y="-205" width="48" height="392" rx="24" fill="#fff" stroke-width="30.9"/>
</g></g>
<g transform="translate(2163.30,1741) scale(0.05157) rotate(-45)"><g stroke="#231f20" stroke-linecap="round" stroke-linejoin="round">
<line x1="0" y1="3" x2="140" y2="1" stroke-width="40.5"/>
<path d="M330,-178 L128,-24 L128,26 L330,172 Z" fill="#fff" stroke-width="40.5"/>
<rect x="218" y="-178" width="1052" height="350" rx="118" fill="#fff" stroke-width="40.5"/>
<rect x="318" y="-140" width="650" height="234" rx="62" fill="#7fcbd7" stroke="none"/>
<g stroke-width="40.5">
<line x1="385" y1="52" x2="385" y2="112"/><line x1="480" y1="14" x2="480" y2="114"/>
<line x1="572" y1="56" x2="572" y2="120"/><line x1="664" y1="16" x2="664" y2="120"/>
<line x1="756" y1="56" x2="756" y2="122"/><line x1="850" y1="18" x2="850" y2="122"/>
<line x1="952" y1="56" x2="952" y2="122"/><line x1="1050" y1="14" x2="1050" y2="122"/>
</g>
<rect x="1266" y="-46" width="130" height="80" fill="#fff" stroke-width="30.9"/>
<rect x="1397" y="-205" width="48" height="392" rx="24" fill="#fff" stroke-width="30.9"/>
</g></g>
<g transform="translate(2163.30,1809) scale(0.05157) rotate(-45)"><g stroke="#231f20" stroke-linecap="round" stroke-linejoin="round">
<line x1="0" y1="3" x2="140" y2="1" stroke-width="40.5"/>
<path d="M330,-178 L128,-24 L128,26 L330,172 Z" fill="#fff" stroke-width="40.5"/>
<rect x="218" y="-178" width="1052" height="350" rx="118" fill="#fff" stroke-width="40.5"/>
<rect x="318" y="-140" width="650" height="234" rx="62" fill="#7fcbd7" stroke="none"/>
<g stroke-width="40.5">
<line x1="385" y1="52" x2="385" y2="112"/><line x1="480" y1="14" x2="480" y2="114"/>
<line x1="572" y1="56" x2="572" y2="120"/><line x1="664" y1="16" x2="664" y2="120"/>
<line x1="756" y1="56" x2="756" y2="122"/><line x1="850" y1="18" x2="850" y2="122"/>
<line x1="952" y1="56" x2="952" y2="122"/><line x1="1050" y1="14" x2="1050" y2="122"/>
</g>
<rect x="1266" y="-46" width="130" height="80" fill="#fff" stroke-width="30.9"/>
<rect x="1397" y="-205" width="48" height="392" rx="24" fill="#fff" stroke-width="30.9"/>
</g></g>
<rect x="2409.9" y="60.2" width="46.9" height="46.9" fill="none" stroke="#d4178a" stroke-width="2.0"/>
<rect x="2504.3" y="60.2" width="46.9" height="46.9" fill="none" stroke="#d4178a" stroke-width="2.0"/>
<rect x="2409.9" y="161.4" width="46.9" height="46.9" fill="none" stroke="#d4178a" stroke-width="2.0"/>
<rect x="2504.3" y="161.4" width="46.9" height="46.9" fill="none" stroke="#d4178a" stroke-width="2.0"/>
<rect x="2409.9" y="262.6" width="46.9" height="46.9" fill="none" stroke="#d4178a" stroke-width="2.0"/>
<rect x="2504.3" y="262.6" width="46.9" height="46.9" fill="none" stroke="#d4178a" stroke-width="2.0"/>
<rect x="2409.9" y="363.8" width="46.9" height="46.9" fill="none" stroke="#d4178a" stroke-width="2.0"/>
<rect x="2504.3" y="363.8" width="46.9" height="46.9" fill="none" stroke="#d4178a" stroke-width="2.0"/>
<rect x="2409.9" y="465.0" width="46.9" height="46.9" fill="none" stroke="#d4178a" stroke-width="2.0"/>
<rect x="2504.3" y="465.0" width="46.9" height="46.9" fill="none" stroke="#d4178a" stroke-width="2.0"/>
<rect x="2409.9" y="566.2" width="46.9" height="46.9" fill="none" stroke="#d4178a" stroke-width="2.0"/>
<rect x="2504.3" y="566.2" width="46.9" height="46.9" fill="none" stroke="#d4178a" stroke-width="2.0"/>
<rect x="2409.9" y="667.4" width="46.9" height="46.9" fill="none" stroke="#d4178a" stroke-width="2.0"/>
<rect x="2504.3" y="667.4" width="46.9" height="46.9" fill="none" stroke="#d4178a" stroke-width="2.0"/>
<rect x="2409.9" y="768.6" width="46.9" height="46.9" fill="none" stroke="#d4178a" stroke-width="2.0"/>
<rect x="2504.3" y="768.6" width="46.9" height="46.9" fill="none" stroke="#d4178a" stroke-width="2.0"/>
<rect x="2409.9" y="869.8" width="46.9" height="46.9" fill="none" stroke="#d4178a" stroke-width="2.0"/>
<rect x="2504.3" y="869.8" width="46.9" height="46.9" fill="none" stroke="#d4178a" stroke-width="2.0"/>
<rect x="2409.9" y="971.0" width="46.9" height="46.9" fill="none" stroke="#d4178a" stroke-width="2.0"/>
<rect x="2504.3" y="971.0" width="46.9" height="46.9" fill="none" stroke="#d4178a" stroke-width="2.0"/>
<rect x="2409.9" y="1072.2" width="46.9" height="46.9" fill="none" stroke="#d4178a" stroke-width="2.0"/>
<rect x="2504.3" y="1072.2" width="46.9" height="46.9" fill="none" stroke="#d4178a" stroke-width="2.0"/>
<rect x="2409.9" y="1173.4" width="46.9" height="46.9" fill="none" stroke="#d4178a" stroke-width="2.0"/>
<rect x="2504.3" y="1173.4" width="46.9" height="46.9" fill="none" stroke="#d4178a" stroke-width="2.0"/>
<rect x="2409.9" y="1274.6" width="46.9" height="46.9" fill="none" stroke="#d4178a" stroke-width="2.0"/>
<rect x="2504.3" y="1274.6" width="46.9" height="46.9" fill="none" stroke="#d4178a" stroke-width="2.0"/>
<rect x="2409.9" y="1375.8" width="46.9" height="46.9" fill="none" stroke="#d4178a" stroke-width="2.0"/>
<rect x="2504.3" y="1375.8" width="46.9" height="46.9" fill="none" stroke="#d4178a" stroke-width="2.0"/>
<rect x="2409.9" y="1477.0" width="46.9" height="46.9" fill="none" stroke="#d4178a" stroke-width="2.0"/>
<rect x="2504.3" y="1477.0" width="46.9" height="46.9" fill="none" stroke="#d4178a" stroke-width="2.0"/>
<rect x="2409.9" y="1578.2" width="46.9" height="46.9" fill="none" stroke="#d4178a" stroke-width="2.0"/>
<rect x="2504.3" y="1578.2" width="46.9" height="46.9" fill="none" stroke="#d4178a" stroke-width="2.0"/>
<rect x="2409.9" y="1679.4" width="46.9" height="46.9" fill="none" stroke="#d4178a" stroke-width="2.0"/>
<rect x="2504.3" y="1679.4" width="46.9" height="46.9" fill="none" stroke="#d4178a" stroke-width="2.0"/>
<rect x="2409.9" y="1780.6" width="46.9" height="46.9" fill="none" stroke="#d4178a" stroke-width="2.0"/>
<rect x="2504.3" y="1780.6" width="46.9" height="46.9" fill="none" stroke="#d4178a" stroke-width="2.0"/>
<rect x="2409.9" y="1881.8" width="46.9" height="46.9" fill="none" stroke="#d4178a" stroke-width="2.0"/>
<rect x="2504.3" y="1881.8" width="46.9" height="46.9" fill="none" stroke="#d4178a" stroke-width="2.0"/>
<rect x="2409.9" y="1983.0" width="46.9" height="46.9" fill="none" stroke="#d4178a" stroke-width="2.0"/>
<rect x="2504.3" y="1983.0" width="46.9" height="46.9" fill="none" stroke="#d4178a" stroke-width="2.0"/>
<rect x="2409.9" y="2084.2" width="46.9" height="46.9" fill="none" stroke="#d4178a" stroke-width="2.0"/>
<rect x="2504.3" y="2084.2" width="46.9" height="46.9" fill="none" stroke="#d4178a" stroke-width="2.0"/>
<rect x="2409.9" y="2185.4" width="46.9" height="46.9" fill="none" stroke="#d4178a" stroke-width="2.0"/>
<rect x="2504.3" y="2185.4" width="46.9" height="46.9" fill="none" stroke="#d4178a" stroke-width="2.0"/>
<rect x="2409.9" y="2286.6" width="46.9" height="46.9" fill="none" stroke="#d4178a" stroke-width="2.0"/>
<rect x="2504.3" y="2286.6" width="46.9" height="46.9" fill="none" stroke="#d4178a" stroke-width="2.0"/>
<rect x="2409.9" y="2387.8" width="46.9" height="46.9" fill="none" stroke="#d4178a" stroke-width="2.0"/>
<rect x="2504.3" y="2387.8" width="46.9" height="46.9" fill="none" stroke="#d4178a" stroke-width="2.0"/>
<circle cx="2726.4" cy="487" r="6" fill="#231f20"/><circle cx="2726.4" cy="669.2" r="6" fill="#231f20"/>
<rect x="4157" y="1780" width="613.5" height="701" fill="url(#hr)"/>
<path d="M4157,2245 A274,274 0 0 0 3883,2519 L4157,2519 Z" fill="#9dce6e"/>
<path d="M4157,2245 A274,274 0 0 1 4431,2519 L4157,2519 Z" fill="#fff"/>
<circle cx="4465.1" cy="1745.8" r="307.7" fill="#7fcdd7"/>
<clipPath id="haloclip"><rect x="4100" y="1890" width="800" height="300"/></clipPath>
<path d="M4356.2,1657.6 C4351.8,1658.8 4338.7,1661.9 4330.0,1665.0 C4321.3,1668.1 4312.0,1672.5 4304.2,1676.0 C4296.4,1679.5 4289.2,1682.9 4283.0,1686.0 C4276.8,1689.1 4273.8,1690.0 4267.0,1694.7 C4260.2,1699.5 4249.4,1707.0 4242.1,1714.5 C4234.9,1722.0 4228.7,1731.1 4223.5,1739.4 C4218.3,1747.7 4214.5,1754.1 4211.0,1764.2 C4207.5,1774.3 4204.9,1789.4 4202.4,1800.0 C4199.9,1810.6 4197.4,1819.7 4196.0,1828.0 C4194.6,1836.3 4194.4,1839.9 4194.3,1850.0 C4194.2,1860.1 4192.8,1878.3 4195.4,1888.7 C4197.9,1899.1 4205.1,1905.5 4209.6,1912.6 C4214.1,1919.7 4217.7,1924.8 4222.6,1931.1 C4227.5,1937.4 4233.5,1944.7 4238.9,1950.7 C4244.3,1956.7 4248.8,1961.0 4255.2,1967.0 C4261.6,1973.0 4269.8,1980.7 4277.0,1986.5 C4284.2,1992.3 4291.5,1997.0 4298.7,2001.7 C4305.9,2006.5 4312.6,2010.8 4320.0,2015.0 C4327.4,2019.2 4334.6,2022.7 4343.3,2026.6 C4352.0,2030.5 4362.7,2035.1 4372.4,2038.2 C4382.1,2041.3 4390.8,2043.2 4401.5,2045.2 C4412.2,2047.2 4425.8,2048.9 4436.5,2049.9 C4447.2,2050.9 4455.9,2051.0 4465.6,2051.0 C4475.3,2051.0 4484.0,2050.9 4494.7,2049.9 C4505.4,2048.9 4519.9,2046.9 4529.6,2045.2 C4539.3,2043.5 4545.1,2042.3 4552.9,2040.0 C4560.7,2037.7 4568.4,2034.2 4576.2,2031.2 C4584.0,2028.2 4592.2,2025.2 4599.5,2021.9 C4606.8,2018.6 4613.4,2015.4 4620.0,2011.4 C4626.6,2007.5 4633.1,2002.8 4639.3,1998.2 C4645.5,1993.6 4651.2,1989.3 4657.1,1983.9 C4663.1,1978.5 4669.0,1971.7 4675.0,1966.0 C4681.0,1960.3 4686.9,1956.2 4692.9,1950.0 C4698.8,1943.8 4705.3,1935.8 4710.7,1928.6 C4716.1,1921.4 4721.1,1914.2 4725.0,1907.0 C4728.9,1899.8 4732.4,1895.2 4733.9,1885.7 C4735.4,1876.2 4734.1,1861.0 4733.9,1850.0 C4733.7,1839.0 4733.3,1827.0 4732.9,1820.0 C4732.5,1813.0 4732.7,1814.4 4731.5,1807.7 C4730.3,1801.0 4728.7,1789.1 4725.9,1779.8 C4723.1,1770.5 4720.1,1760.6 4714.7,1751.8 C4709.3,1743.0 4700.7,1733.9 4693.7,1726.7 C4686.7,1719.5 4682.1,1715.3 4672.8,1708.5 C4663.5,1701.7 4650.6,1693.3 4637.8,1686.1 C4625.0,1678.9 4609.4,1670.5 4595.9,1665.2 C4582.4,1659.9 4563.5,1655.9 4557.0,1654.0 L4456.7,1700 Z" fill="#fff" stroke="#fff" stroke-width="7" stroke-linejoin="round" clip-path="url(#haloclip)"/>
<path d="M4349.3,1457.0 C4348.2,1453.6 4344.8,1444.2 4342.5,1436.5 C4340.2,1428.8 4337.6,1419.5 4335.6,1410.9 C4333.6,1402.4 4331.5,1392.3 4330.5,1385.2 C4329.5,1378.1 4329.0,1374.6 4329.6,1368.1 C4330.2,1361.5 4331.5,1352.2 4333.9,1345.9 C4336.3,1339.7 4340.5,1334.4 4344.2,1330.6 C4347.9,1326.8 4353.2,1324.6 4356.1,1322.9 C4359.0,1321.2 4359.9,1322.5 4361.3,1320.3 C4362.7,1318.1 4362.4,1314.8 4364.7,1310.0 C4367.0,1305.2 4370.3,1297.5 4374.9,1291.3 C4379.4,1285.0 4385.7,1277.9 4392.0,1272.5 C4398.3,1267.1 4404.8,1262.4 4412.5,1258.8 C4420.2,1255.2 4431.0,1252.5 4438.1,1251.1 C4445.2,1249.7 4448.2,1249.9 4455.2,1250.3 C4462.2,1250.7 4469.3,1249.2 4480.0,1253.7 C4490.7,1258.2 4507.6,1267.9 4519.6,1277.3 C4531.6,1286.7 4543.6,1301.9 4552.2,1309.9 C4560.8,1318.0 4565.2,1321.3 4571.2,1325.6 C4577.2,1329.9 4582.8,1333.8 4588.3,1335.9 C4593.9,1338.0 4601.9,1335.3 4604.5,1338.4 C4607.1,1341.5 4605.0,1348.3 4603.7,1354.7 C4602.4,1361.1 4600.0,1370.7 4596.9,1376.9 C4593.8,1383.2 4589.2,1387.7 4584.9,1392.2 C4580.6,1396.8 4573.5,1402.2 4571.2,1404.2 L4561,1454.6 L4547.3,1456.3 L4450,1470 Z" fill="#19293a"/>
<ellipse cx="4352.6" cy="1479.8" rx="16.2" ry="24" fill="#d59078"/><ellipse cx="4559.8" cy="1479.3" rx="15.8" ry="24" fill="#d59078"/>
<rect x="4408.4" y="1540" width="91.8" height="130" fill="#d59078"/>
<path d="M4408.4,1560 L4500.2,1560 L4500.2,1587 Q4456.7,1632 4408.4,1589.7 Z" fill="#a45a4e"/>
<path d="M4364.7,1460.0 C4364.3,1441.5 4364.1,1407.7 4364.7,1393.8 C4365.3,1379.9 4366.4,1381.3 4368.1,1376.7 C4369.8,1372.1 4372.3,1368.8 4374.9,1366.4 C4377.5,1364.0 4380.6,1362.8 4383.5,1362.2 C4386.4,1361.6 4390.3,1363.3 4392.0,1363.0 C4393.7,1362.7 4392.3,1362.8 4393.7,1360.5 C4395.1,1358.2 4397.5,1352.3 4400.6,1349.3 C4403.7,1346.3 4408.2,1343.6 4412.5,1342.5 C4416.8,1341.4 4421.6,1341.7 4426.2,1342.5 C4430.8,1343.3 4435.0,1345.3 4439.8,1347.6 C4444.6,1349.9 4448.5,1351.6 4455.2,1356.2 C4461.9,1360.8 4473.9,1370.3 4480.0,1375.0 C4486.1,1379.7 4485.1,1380.1 4491.7,1384.4 C4498.3,1388.7 4510.3,1396.6 4519.6,1400.7 C4528.9,1404.8 4542.7,1399.4 4547.3,1409.3 C4551.9,1419.2 4547.9,1444.0 4547.3,1460.0 C4546.7,1476.0 4545.3,1493.3 4543.5,1505.0 C4541.7,1516.7 4539.6,1521.8 4536.5,1530.0 C4533.4,1538.2 4530.8,1547.1 4524.7,1554.3 C4518.6,1561.5 4511.5,1568.6 4500.2,1573.4 C4488.9,1578.2 4471.2,1582.9 4456.7,1582.9 C4442.2,1582.9 4424.6,1578.2 4413.3,1573.4 C4402.0,1568.6 4395.4,1561.5 4388.8,1554.3 C4382.2,1547.1 4377.2,1538.2 4373.5,1530.0 C4369.8,1521.8 4368.3,1516.7 4366.8,1505.0 C4365.3,1493.3 4365.1,1478.5 4364.7,1460.0 Z" fill="#d59078"/>
<path d="M4356.2,1657.6 C4351.8,1658.8 4338.7,1661.9 4330.0,1665.0 C4321.3,1668.1 4312.0,1672.5 4304.2,1676.0 C4296.4,1679.5 4289.2,1682.9 4283.0,1686.0 C4276.8,1689.1 4273.8,1690.0 4267.0,1694.7 C4260.2,1699.5 4249.4,1707.0 4242.1,1714.5 C4234.9,1722.0 4228.7,1731.1 4223.5,1739.4 C4218.3,1747.7 4214.5,1754.1 4211.0,1764.2 C4207.5,1774.3 4204.9,1789.4 4202.4,1800.0 C4199.9,1810.6 4197.4,1819.7 4196.0,1828.0 C4194.6,1836.3 4194.4,1839.9 4194.3,1850.0 C4194.2,1860.1 4192.8,1878.3 4195.4,1888.7 C4197.9,1899.1 4205.1,1905.5 4209.6,1912.6 C4214.1,1919.7 4217.7,1924.8 4222.6,1931.1 C4227.5,1937.4 4233.5,1944.7 4238.9,1950.7 C4244.3,1956.7 4248.8,1961.0 4255.2,1967.0 C4261.6,1973.0 4269.8,1980.7 4277.0,1986.5 C4284.2,1992.3 4291.5,1997.0 4298.7,2001.7 C4305.9,2006.5 4312.6,2010.8 4320.0,2015.0 C4327.4,2019.2 4334.6,2022.7 4343.3,2026.6 C4352.0,2030.5 4362.7,2035.1 4372.4,2038.2 C4382.1,2041.3 4390.8,2043.2 4401.5,2045.2 C4412.2,2047.2 4425.8,2048.9 4436.5,2049.9 C4447.2,2050.9 4455.9,2051.0 4465.6,2051.0 C4475.3,2051.0 4484.0,2050.9 4494.7,2049.9 C4505.4,2048.9 4519.9,2046.9 4529.6,2045.2 C4539.3,2043.5 4545.1,2042.3 4552.9,2040.0 C4560.7,2037.7 4568.4,2034.2 4576.2,2031.2 C4584.0,2028.2 4592.2,2025.2 4599.5,2021.9 C4606.8,2018.6 4613.4,2015.4 4620.0,2011.4 C4626.6,2007.5 4633.1,2002.8 4639.3,1998.2 C4645.5,1993.6 4651.2,1989.3 4657.1,1983.9 C4663.1,1978.5 4669.0,1971.7 4675.0,1966.0 C4681.0,1960.3 4686.9,1956.2 4692.9,1950.0 C4698.8,1943.8 4705.3,1935.8 4710.7,1928.6 C4716.1,1921.4 4721.1,1914.2 4725.0,1907.0 C4728.9,1899.8 4732.4,1895.2 4733.9,1885.7 C4735.4,1876.2 4734.1,1861.0 4733.9,1850.0 C4733.7,1839.0 4733.3,1827.0 4732.9,1820.0 C4732.5,1813.0 4732.7,1814.4 4731.5,1807.7 C4730.3,1801.0 4728.7,1789.1 4725.9,1779.8 C4723.1,1770.5 4720.1,1760.6 4714.7,1751.8 C4709.3,1743.0 4700.7,1733.9 4693.7,1726.7 C4686.7,1719.5 4682.1,1715.3 4672.8,1708.5 C4663.5,1701.7 4650.6,1693.3 4637.8,1686.1 C4625.0,1678.9 4609.4,1670.5 4595.9,1665.2 C4582.4,1659.9 4563.5,1655.9 4557.0,1654.0 L4456.7,1700 Z" fill="#fdf1ef"/>
<path d="M4356.2,1657.6 L4391.5,1645.4 L4403.8,1615.5 L4456.7,1655.4 L4505.6,1616.3 L4519.2,1646.7 L4557.3,1654.9 L4456.7,1839.7 Z" fill="#6b80c1"/>
<path d="M4456.7,1665.8 L4430.9,1694.3 L4447.2,1713.3 L4464.9,1713.3 L4479.8,1694.3 Z" fill="#343a78"/><path d="M4444.5,1712.0 L4429.6,1800.3 L4456.7,1839.7 L4483.9,1800.3 L4467.5,1712.0 Z" fill="#343a78"/>
<g stroke="#2e3470" stroke-width="3.8" stroke-linecap="round" fill="none"><path d="M4394.2,1652.2 L4421.4,1701.1"/><path d="M4517.9,1649.5 L4489.3,1701.6"/></g>
<g stroke="#ddd3d3" stroke-width="4.2" stroke-linecap="round" stroke-linejoin="round" fill="none"><path d="M4333.1,1672.6 L4322.2,1717.4 L4358.9,1713.3"/><path d="M4344,1717.4 L4327.7,1774.5 L4444,1854"/><path d="M4583.1,1665.8 L4592.6,1710.6 L4558.6,1705.2"/><path d="M4572.2,1709.2 L4587.2,1762.2 L4480.6,1839.4"/><path d="M4268.6,1717 Q4292,1782 4308,1850"/><path d="M4645,1711 Q4612,1820 4581,1952"/><path d="M4380.4,1909.3 L4503.9,1856.5"/><path d="M4256.2,1971.4 L4305.9,1947.3"/><path d="M4550.5,1946.6 L4641.3,1971.4"/></g>
<path d="M4263.2,1894.5 C4263.7,1890.9 4264.9,1884.2 4267.1,1879.0 C4269.3,1873.8 4272.5,1867.4 4276.4,1863.5 C4280.3,1859.6 4285.0,1857.7 4290.4,1855.7 C4295.8,1853.8 4303.6,1852.7 4309.0,1851.8 C4314.4,1850.9 4319.4,1849.9 4323.0,1850.3 C4326.6,1850.7 4329.0,1852.3 4330.7,1854.2 C4332.4,1856.1 4331.3,1859.6 4333.1,1861.9 C4334.9,1864.2 4339.3,1865.8 4341.6,1868.1 C4343.9,1870.4 4344.1,1873.6 4347.0,1875.9 C4349.9,1878.2 4356.0,1879.2 4358.7,1882.1 C4361.4,1884.9 4361.1,1890.2 4363.4,1893.0 C4365.7,1895.8 4370.1,1896.9 4372.7,1899.2 C4375.3,1901.5 4378.1,1904.4 4378.9,1907.0 C4379.7,1909.6 4380.7,1912.1 4377.3,1914.7 C4373.9,1917.3 4365.7,1919.1 4358.7,1922.5 C4351.7,1925.9 4342.6,1931.3 4335.4,1934.9 C4328.1,1938.5 4320.6,1942.5 4315.2,1944.2 C4309.8,1945.9 4305.6,1945.8 4302.8,1945.0 C4300.0,1944.2 4301.2,1941.3 4298.1,1939.6 C4295.0,1937.9 4287.0,1937.2 4284.2,1934.9 C4281.4,1932.6 4283.4,1928.2 4281.1,1925.6 C4278.8,1923.0 4272.3,1922.5 4270.2,1919.4 C4268.1,1916.3 4269.6,1910.1 4268.6,1907.0 C4267.6,1903.9 4264.9,1902.8 4264.0,1900.7 C4263.1,1898.6 4262.7,1898.1 4263.2,1894.5 Z" fill="#d59078"/>
<path d="M4512.4,1872.8 C4510.3,1862.7 4521.7,1867.0 4526.4,1865.0 C4531.1,1863.0 4536.0,1861.5 4540.4,1861.1 C4544.8,1860.7 4544.0,1859.5 4552.8,1862.7 C4561.6,1866.0 4588.3,1867.4 4593.2,1880.6 C4598.1,1893.8 4585.7,1932.0 4582.3,1941.9 C4578.9,1951.9 4577.7,1941.3 4573.0,1940.3 C4568.3,1939.3 4559.5,1937.9 4554.3,1935.7 C4549.1,1933.5 4544.5,1928.8 4541.9,1927.1 C4539.3,1925.4 4543.7,1934.6 4538.8,1925.6 C4533.9,1916.5 4514.5,1882.9 4512.4,1872.8 Z" fill="#d59078"/>
<path d="M4581,1952 L4587,1925" stroke="#ddd3d3" stroke-width="4.2" stroke-linecap="round"/>
<g stroke="#a0584f" stroke-width="3.2" stroke-linecap="round" fill="none"><path d="M4276.4,1896.9 Q4300,1878 4326.1,1868.1"/><path d="M4290.4,1913.2 Q4314,1891 4344,1881.3"/><path d="M4306.7,1927.1 Q4330,1908 4360.2,1900.7"/></g>
</svg>
<div class="n" style="left:670.60px;width:91.5px;color:#231f20">1</div><div class="n" style="left:768.98px;width:91.5px;color:#231f20">2</div><div class="n" style="left:867.36px;width:91.5px;color:#231f20">3</div><div class="n" style="left:965.74px;width:91.5px;color:#231f20">4</div><div class="n" style="left:1064.12px;width:91.5px;color:#231f20">5</div><div class="n" style="left:1162.50px;width:91.5px;color:#231f20">6</div><div class="n" style="left:1260.88px;width:91.5px;color:#231f20">7</div><div class="n" style="left:1359.26px;width:91.5px;color:#231f20">8</div><div class="n" style="left:1457.64px;width:91.5px;color:#231f20">9</div><div class="n" style="left:1556.02px;width:91.5px;color:#231f20">10</div><div class="n" style="left:1654.40px;width:91.5px;color:#231f20">11</div><div class="n" style="left:1752.78px;width:91.5px;color:#231f20">12</div><div class="n" style="left:1851.16px;width:91.5px;color:#231f20">13</div><div class="n" style="left:1949.54px;width:91.5px;color:#231f20">14</div><div class="n" style="left:2047.92px;width:91.5px;color:#231f20">15</div><div class="n" style="left:2146.30px;width:91.5px;color:#231f20">16</div>
<div class="t" id="title" style="left:667.05px;top:244.38px;font-size:84px;transform:scaleX(0.95301)"><span style="color:#1b5d7c;font-weight:700;font-style:normal">Jak będzie podawany badany lek?</span></div>
<div class="t" id="b1" style="left:666.02px;top:397.72px;font-size:52.3px;transform:scaleX(0.99589)"><span style="color:#231f20;font-weight:400;font-style:normal">Każdą dawkę badanego leku podaje się w </span><span style="color:#9dbc7f;font-weight:700;font-style:normal">dwóch zastrzykach</span></div>
<div class="t" id="b2" style="left:668.40px;top:477.02px;font-size:52.3px;transform:scaleX(1.00451)"><span style="color:#231f20;font-weight:400;font-style:normal">wykonywanych pod skórę w tkankę tłuszczową przy pomocy</span></div>
<div class="t" id="b3" style="left:667.00px;top:555.72px;font-size:52.3px;transform:scaleX(1.00059)"><span style="color:#231f20;font-weight:400;font-style:normal">bardzo małej igły. Określa się to jako </span><span style="color:#9dbc7f;font-weight:700;font-style:normal">zastrzyk podskórny</span><span style="color:#231f20;font-weight:400;font-style:normal">.</span></div>
<div class="t" id="b4" style="left:666.39px;top:634.52px;font-size:52.3px;transform:scaleX(1.00808)"><span style="color:#231f20;font-weight:400;font-style:normal">Zastrzyki będą wykonywane w brzuch, udo lub ramię przez</span></div>
<div class="t" id="b5" style="left:666.96px;top:714.02px;font-size:52.3px;transform:scaleX(1.01178)"><span style="color:#231f20;font-weight:400;font-style:normal">pielęgniarkę lub lekarza prowadzącego badanie.</span></div>
<div class="t" id="c1" style="left:667.97px;top:841.21px;font-size:52.9px;transform:scaleX(1.01607)"><span style="color:#9dbc7f;font-weight:700;font-style:normal">Co około 4 tygodnie</span><span style="color:#1b5d7c;font-weight:700;font-style:normal"> niezbędna będzie wizyta w klinice</span></div>
<div class="t" id="c2" style="left:666.54px;top:919.81px;font-size:52.9px;transform:scaleX(1.02004)"><span style="color:#1b5d7c;font-weight:700;font-style:normal">prowadzącej badanie w celu przyjęcia badanego leku.</span></div>
<div class="t" id="c3" style="left:668.20px;top:997.61px;font-size:52.9px;transform:scaleX(1.01528)"><span style="color:#1b5d7c;font-weight:700;font-style:normal">W sumie uczestnik może otrzymać do 19 dawek.</span></div>
<div class="t" id="g1" style="left:220.08px;top:1294.00px;font-size:45px;transform:scaleX(0.94669)"><span style="color:#1b5d7c;font-weight:700;font-style:normal">Grupa nr 1</span></div>
<div class="t" id="t1" style="left:220.05px;top:1357.96px;font-size:40.2px;transform:scaleX(0.95294)"><span style="color:#231f20;font-weight:400;font-style:normal">Tezepelumab </span><span style="color:#231f20;font-weight:400;font-style:italic">(420 mg)</span></div>
<div class="t" id="g2" style="left:220.05px;top:1492.20px;font-size:45px;transform:scaleX(0.96429)"><span style="color:#1b5d7c;font-weight:700;font-style:normal">Grupa nr 2</span></div>
<div class="t" id="t2" style="left:220.05px;top:1555.96px;font-size:40.2px;transform:scaleX(0.95294)"><span style="color:#231f20;font-weight:400;font-style:normal">Tezepelumab </span><span style="color:#231f20;font-weight:400;font-style:italic">(210 mg)</span></div>
<div class="t" id="g3" style="left:220.05px;top:1693.50px;font-size:45px;transform:scaleX(0.96447)"><span style="color:#1b5d7c;font-weight:700;font-style:normal">Grupa nr 3</span></div>
<div class="t" id="t3" style="left:218.14px;top:1757.16px;font-size:40.2px;transform:scaleX(0.96075)"><span style="color:#231f20;font-weight:400;font-style:normal">Placebo</span></div>
<div class="t" id="pn" style="left:147.32px;top:2348.47px;font-size:44.8px;transform:scaleX(0.96224)"><span style="color:#1b5d7c;font-weight:700;font-style:normal">12</span></div>
<div class="t" id="f1" style="left:1262.13px;top:2360.76px;font-size:31.7px;transform:scaleX(0.94823)"><span style="color:#231f20;font-weight:400;font-style:normal">Kod badania: D5241C00006</span></div>
<div class="t" id="f2" style="left:1679.11px;top:2360.76px;font-size:31.7px;transform:scaleX(0.95487)"><span style="color:#231f20;font-weight:400;font-style:normal">Wersja nr: 1.0</span></div>
<div class="t" id="f3" style="left:1901.67px;top:2360.76px;font-size:31.7px;transform:scaleX(0.97281)"><span style="color:#231f20;font-weight:400;font-style:normal">Data: 18/02/2025</span></div>
<div class="t" id="f4" style="left:2174.11px;top:2360.76px;font-size:31.7px;transform:scaleX(0.95579)"><span style="color:#231f20;font-weight:400;font-style:normal">PL-pl</span></div>
<div class="t" id="r1" style="left:2716.54px;top:2360.76px;font-size:31.7px;transform:scaleX(0.94142)"><span style="color:#231f20;font-weight:400;font-style:normal">Kod badania: D5241C00006</span></div>
<div class="t" id="r2" style="left:3132.41px;top:2360.76px;font-size:31.7px;transform:scaleX(0.94360)"><span style="color:#231f20;font-weight:400;font-style:normal">Wersja nr: 1.0</span></div>
<div class="t" id="r3" style="left:3356.69px;top:2360.76px;font-size:31.7px;transform:scaleX(0.96320)"><span style="color:#231f20;font-weight:400;font-style:normal">Data: 18/02/2025</span></div>
<div class="t" id="r4" style="left:3629.15px;top:2360.76px;font-size:31.7px;transform:scaleX(0.94807)"><span style="color:#231f20;font-weight:400;font-style:normal">PL-pl</span></div>
<div class="t" id="h1" style="left:2718.08px;top:242.07px;font-size:63.7px;transform:scaleX(0.93441)"><span style="color:#1b5d7c;font-weight:700;font-style:normal">Po otrzymaniu leku stan zdrowia i samopoczucie uczestnika</span></div>
<div class="t" id="h2" style="left:2717.22px;top:325.07px;font-size:63.7px;transform:scaleX(0.95096)"><span style="color:#1b5d7c;font-weight:700;font-style:normal">będą uważnie monitorowane w klinice prowadzącej badanie.</span></div>
<div class="t" id="u1" style="left:2787.56px;top:461.12px;font-size:52.3px;transform:scaleX(1.00999)"><span style="color:#231f20;font-weight:400;font-style:normal">Po otrzymaniu pierwszej dawki leku uczestnik pozostanie na obserwacji</span></div>
<div class="t" id="u2" style="left:2788.03px;top:541.12px;font-size:52.3px;transform:scaleX(0.99016)"><span style="color:#231f20;font-weight:400;font-style:normal">przez </span><span style="color:#9dbc7f;font-weight:700;font-style:normal">co najmniej 1 godzinę</span></div>
<div class="t" id="u3" style="left:2787.96px;top:642.62px;font-size:52.3px;transform:scaleX(1.01797)"><span style="color:#231f20;font-weight:400;font-style:normal">Od drugiej do ostatniej dawki leku przyjmowanego w ramach badania</span></div>
<div class="t" id="u4" style="left:2788.97px;top:721.82px;font-size:52.3px;transform:scaleX(1.00861)"><span style="color:#231f20;font-weight:400;font-style:normal">uczestnik pozostanie na obserwacji przez co najmniej 30 minut</span></div>
<div class="t" id="m1" style="left:2717.80px;top:872.81px;font-size:52.9px;transform:scaleX(0.98382)"><span style="color:#1b5d7c;font-weight:700;font-style:normal">Więcej informacji o badaniach i ocenach, jakie mogą zostać</span></div>
<div class="t" id="m2" style="left:2715.04px;top:952.41px;font-size:52.9px;transform:scaleX(0.98833)"><span style="color:#1b5d7c;font-weight:700;font-style:normal">przeprowadzone w trakcie leczenia, znajduje się w dalszej</span></div>
<div class="t" id="m3" style="left:2716.06px;top:1029.51px;font-size:52.9px;transform:scaleX(0.97391)"><span style="color:#1b5d7c;font-weight:700;font-style:normal">części przewodnika.</span></div>
<div class="t" id="i1" style="left:2718.72px;top:1156.34px;font-size:48.5px;transform:scaleX(0.92210)"><span style="color:#231f20;font-weight:400;font-style:italic">Rozumiemy, że przyjmowanie badanego leku w połączeniu z dotychczasowymi</span></div>
<div class="t" id="i2" style="left:2718.65px;top:1230.94px;font-size:48.5px;transform:scaleX(0.91479)"><span style="color:#231f20;font-weight:400;font-style:italic">lekami na POChP może budzić obawy. Są one uzasadnione. W poprzednich</span></div>
<div class="t" id="i3" style="left:2717.43px;top:1305.44px;font-size:48.5px;transform:scaleX(0.91834)"><span style="color:#231f20;font-weight:400;font-style:italic">badaniach dotyczących POChP wykazano jednak, że dawka tezepelumabu</span></div>
<div class="t" id="i4" style="left:2717.02px;top:1379.54px;font-size:48.5px;transform:scaleX(0.95216)"><span style="color:#231f20;font-weight:400;font-style:italic">stosowana w tym badaniu jest dobrze tolerowana.</span></div>
<div class="t" id="i5" style="left:2718.07px;top:1502.54px;font-size:48.5px;transform:scaleX(0.94515)"><span style="color:#231f20;font-weight:400;font-style:italic">Aby uzyskać więcej informacji o poprzednim badaniu,</span></div>
<div class="t" id="i6" style="left:2717.43px;top:1578.24px;font-size:48.5px;transform:scaleX(0.92296)"><span style="color:#231f20;font-weight:400;font-style:italic">należy się zwrócić do zespołu badawczego.</span></div>
</body></html>
